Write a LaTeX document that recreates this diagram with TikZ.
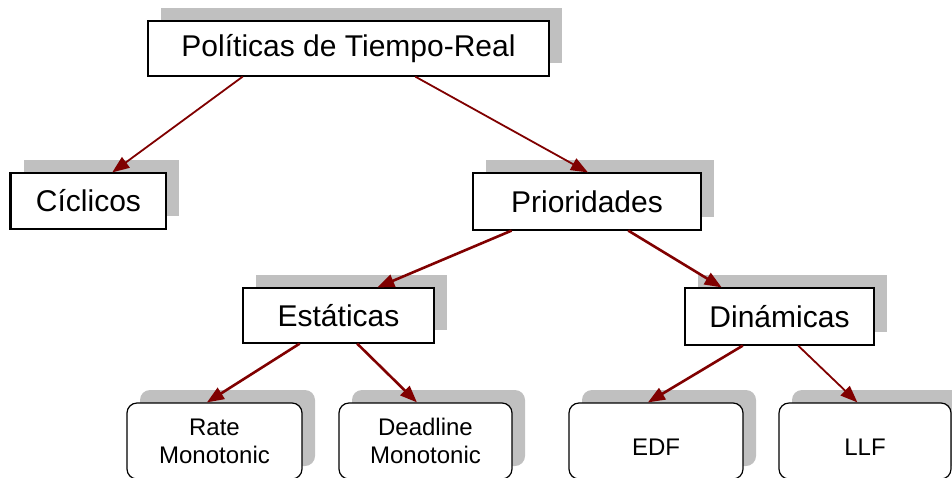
\documentclass[tikz,border=0pt]{standalone}
\usepackage{fontspec}
\setmainfont{Liberation Sans}
\usetikzlibrary{arrows.meta,calc,shadows}
\definecolor{arrowred}{HTML}{800000}
\definecolor{shadowgray}{HTML}{C0C0C0}
\begin{document}
\begin{tikzpicture}[x=1pt,y=-1pt,
  box/.style={draw=black, line width=1.2pt, fill=white, inner sep=0pt,
    font=\fontsize{30}{34}\selectfont,
    general shadow={fill=shadowgray, shadow xshift=13pt, shadow yshift=13pt}},
  leaf/.style={box, rounded corners=10pt, minimum height=76pt, align=center,
    font=\fontsize{24}{28}\selectfont},
  arr/.style={draw=arrowred, line width=1.8pt, -{Triangle[length=17pt,width=13pt]}},
  arrb/.style={arr, line width=2.6pt}]
\useasboundingbox (0,0) rectangle (952,477);
\clip (0,0) rectangle (952,477);
% nodes
\node[box, minimum width=401pt, minimum height=55pt] (top) at (348.5,48.5) {Políticas de Tiempo-Real};
\node[box, minimum width=155pt, minimum height=56pt] (cic) at (88.5,201) {Cíclicos};
\node[box, minimum width=228pt, minimum height=57pt] (pri) at (587,201.5) {Prioridades};
\node[box, minimum width=191pt, minimum height=55pt] (est) at (338.5,315.5) {Estáticas};
\node[box, minimum width=189pt, minimum height=57pt] (din) at (779.5,316.5) {Dinámicas};
\node[leaf, minimum width=175pt] (rate) at (214.5,441) {Rate\\Monotonic};
\node[leaf, minimum width=173pt] (dead) at (425.5,441) {Deadline\\Monotonic};
\node[leaf, minimum width=174pt, text height=28pt] (edf) at (656,441) {EDF};
\node[leaf, minimum width=172pt, text height=28pt] (llf) at (865,441) {LLF};
\draw[line width=3pt] (cic.north west) -- (cic.south west);
% connectors
\draw[arr]  ($(top.south west)!0.237!(top.south east)$) -- ($(cic.north west)!0.652!(cic.north east)$);
\draw[arr]  ($(top.south west)!0.666!(top.south east)$) -- ($(pri.north west)!0.504!(pri.north east)$);
\draw[arrb] ($(pri.south west)!0.171!(pri.south east)$) -- ($(est.north west)!0.702!(est.north east)$);
\draw[arrb] ($(pri.south west)!0.680!(pri.south east)$) -- ($(din.north west)!0.196!(din.north east)$);
\draw[arrb] ($(est.south west)!0.298!(est.south east)$) -- ($(rate.north west)!0.457!(rate.north east)$);
\draw[arrb] ($(est.south west)!0.597!(est.south east)$) -- ($(dead.north west)!0.451!(dead.north east)$);
\draw[arrb] ($(din.south west)!0.307!(din.south east)$) -- ($(edf.north west)!0.454!(edf.north east)$);
\draw[arr]  ($(din.south west)!0.598!(din.south east)$) -- ($(llf.north west)!0.456!(llf.north east)$);
\end{tikzpicture}
\end{document}
